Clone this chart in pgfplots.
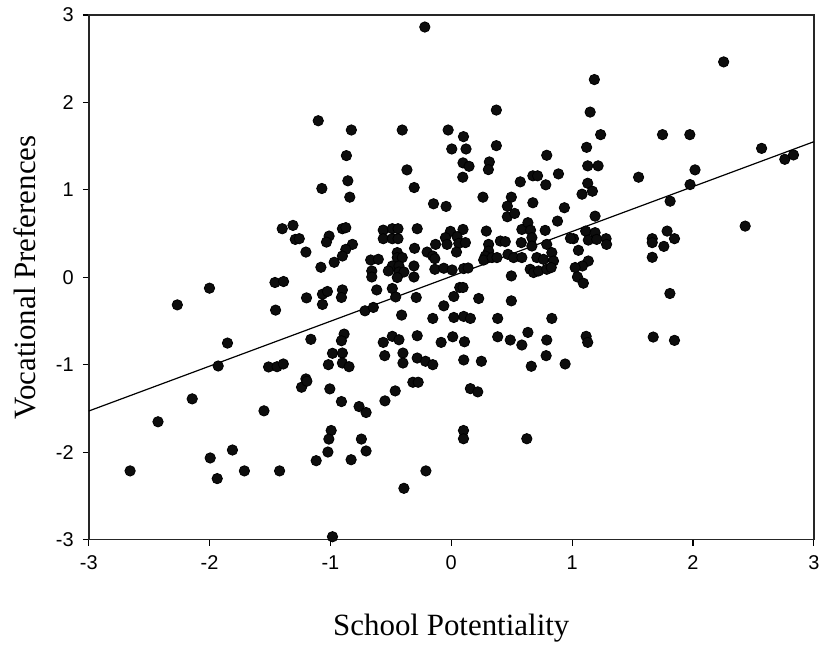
\documentclass[border=0pt]{standalone}
\usepackage{fontspec}
\setmainfont{Liberation Serif}
\newfontfamily\arialf{Liberation Sans}
\usepackage{pgfplots}
\pgfplotsset{compat=1.18}
\usepackage{pgfplotstable}
\pgfplotstableread{
x y
-0.219 2.862
2.254 2.463
1.184 2.261
0.373 1.912
-1.101 1.790
-0.827 1.684
-0.406 1.684
-0.026 1.684
0.101 1.608
0.004 1.467
0.122 1.467
0.373 1.505
-0.868 1.391
0.790 1.395
0.097 1.308
0.147 1.269
0.315 1.319
0.307 1.231
-0.367 1.228
-0.856 1.103
0.095 1.144
0.675 1.160
0.714 1.160
0.887 1.182
0.571 1.091
0.782 1.057
-0.307 1.026
-0.840 0.916
0.262 0.916
0.497 0.916
0.675 0.852
-0.147 0.840
-0.043 0.810
0.464 0.813
0.936 0.795
-1.071 1.015
1.149 1.889
1.236 1.631
1.748 1.631
1.974 1.631
1.120 1.486
2.568 1.474
2.760 1.349
2.832 1.399
1.129 1.274
1.215 1.274
2.017 1.228
1.550 1.144
1.129 1.075
1.976 1.060
1.082 0.950
1.168 0.984
1.811 0.870
1.190 0.699
2.432 0.585
1.112 0.528
1.190 0.510
1.786 0.528
1.847 0.441
1.663 0.441
1.663 0.396
1.759 0.353
1.134 0.425
1.203 0.433
1.281 0.441
1.285 0.376
1.011 0.441
1.052 0.308
1.663 0.228
1.134 0.186
1.085 0.129
1.025 0.111
1.044 0.003
1.093 -0.068
1.809 -0.186
1.116 -0.676
1.129 -0.745
1.671 -0.684
1.847 -0.722
-1.399 0.555
-1.310 0.593
-1.291 0.433
-1.258 0.441
-1.203 0.288
-1.011 0.471
-1.033 0.402
-1.079 0.114
-0.969 0.171
-2.001 -0.125
-2.267 -0.316
-1.459 -0.060
-1.388 -0.049
-1.198 -0.236
-1.066 -0.194
-1.025 -0.163
-1.066 -0.311
-1.454 -0.376
-1.162 -0.710
-1.852 -0.753
-1.929 -1.015
-1.512 -1.026
-1.442 -1.023
-1.390 -0.992
-0.983 -0.870
-1.017 -1.000
-1.203 -1.163
-2.144 -1.391
-2.427 -1.653
-2.658 -2.215
-1.995 -2.067
-1.811 -1.976
-1.937 -2.303
-1.712 -2.215
-1.421 -2.215
-1.550 -1.528
-1.239 -1.258
-1.195 -1.189
-1.005 -1.277
-0.994 -1.753
-1.013 -1.851
-1.021 -1.999
-1.118 -2.098
-0.983 -2.968
-0.909 -1.422
-0.763 -1.479
-0.705 -1.547
-0.549 -1.414
-0.464 -1.300
-0.318 -1.201
-0.274 -1.201
0.158 -1.274
0.219 -1.311
-0.744 -1.851
-0.829 -2.087
-0.705 -1.987
-0.210 -2.215
-0.392 -2.414
0.101 -1.753
0.101 -1.847
0.625 -1.847
0.464 0.692
0.524 0.730
0.879 0.642
-0.901 0.555
-0.873 0.567
-0.563 0.539
-0.488 0.555
-0.441 0.555
-0.563 0.441
-0.488 0.441
-0.441 0.441
-0.282 0.555
-0.007 0.525
0.097 0.547
0.290 0.528
0.584 0.547
0.634 0.624
0.656 0.539
0.777 0.536
-0.818 0.376
-0.873 0.319
-0.901 0.243
-0.048 0.453
0.048 0.464
0.062 0.388
0.117 0.396
-0.035 0.376
-0.130 0.376
-0.304 0.331
-0.200 0.288
-0.153 0.243
-0.136 0.213
0.043 0.288
0.309 0.376
0.309 0.300
0.282 0.243
0.268 0.197
0.337 0.225
0.378 0.225
0.406 0.414
0.447 0.407
0.579 0.396
0.667 0.453
0.667 0.357
0.790 0.376
0.986 0.445
0.469 0.262
0.516 0.225
0.584 0.225
0.708 0.225
0.763 0.205
0.832 0.282
0.846 0.186
-0.667 0.197
-0.604 0.205
-0.447 0.282
-0.447 0.225
-0.406 0.225
-0.488 0.129
-0.433 0.129
-0.309 0.129
-0.521 0.072
-0.433 0.060
-0.392 0.060
-0.447 -0.003
-0.309 0.003
-0.658 0.072
-0.658 0.003
-0.136 0.091
-0.062 0.103
0.007 0.083
0.103 0.099
0.139 0.106
0.497 0.015
0.653 0.091
0.681 0.054
0.722 0.072
0.790 0.091
0.827 0.111
-0.901 -0.145
-0.909 -0.231
-0.617 -0.145
-0.488 -0.129
-0.460 -0.225
-0.290 -0.231
0.070 -0.117
0.097 -0.117
0.021 -0.220
0.227 -0.243
0.497 -0.270
-0.714 -0.384
-0.645 -0.345
-0.062 -0.327
-0.411 -0.433
-0.153 -0.471
0.021 -0.460
0.103 -0.448
0.158 -0.471
0.384 -0.471
0.832 -0.471
-0.887 -0.650
-0.909 -0.726
-0.901 -0.867
-0.901 -0.981
-0.846 -1.023
-0.563 -0.745
-0.488 -0.676
-0.433 -0.715
-0.282 -0.669
-0.084 -0.745
0.012 -0.681
0.109 -0.738
0.384 -0.681
0.488 -0.718
0.584 -0.775
0.634 -0.631
0.790 -0.718
-0.551 -0.897
-0.400 -0.867
-0.400 -0.981
-0.282 -0.924
-0.213 -0.961
-0.153 -1.000
0.103 -0.946
0.249 -0.961
0.662 -1.018
0.785 -0.897
0.942 -0.992
}\pts
\begin{document}
\begin{tikzpicture}
\begin{axis}[
  scale only axis,
  width=363.5pt, height=263pt,
  xmin=-3, xmax=3, ymin=-3, ymax=3,
  xtick={-3,-2,-1,0,1,2,3},
  ytick={-3,-2,-1,0,1,2,3},
  xtick pos=left, ytick pos=left,
  tick align=outside,
  major tick length=3pt,
  tick style={black, line width=0.6pt},
  axis line style={black!85, line width=0.9pt},
  /pgf/number format/assume math mode=true,
  ticklabel style={font=\arialf\fontsize{10}{12}\selectfont},
  xticklabel style={yshift=-1.5pt},
  yticklabel style={xshift=-1pt},
  clip=false,
  xlabel={School Potentiality},
  ylabel={Vocational Preferences},
  xlabel style={font=\fontsize{15.5}{18}\selectfont, at={(rel axis cs:0.5,-0.169)}, anchor=center},
  ylabel style={font=\fontsize{15.5}{18}\selectfont, at={(rel axis cs:-0.088,0.5)}, anchor=center},
]
\addplot[only marks, mark=*, mark size=2.6pt, mark options={fill=black!95, draw=black}] table[x=x, y=y] {\pts};
\addplot[black, line width=0.6pt] coordinates {(-3,-1.53) (3,1.55)};
\end{axis}
\path[use as bounding box] ([shift={(-44.5pt,-52pt)}]current axis.south west) rectangle ([shift={(5pt,7.5pt)}]current axis.north east);
\end{tikzpicture}
\end{document}
